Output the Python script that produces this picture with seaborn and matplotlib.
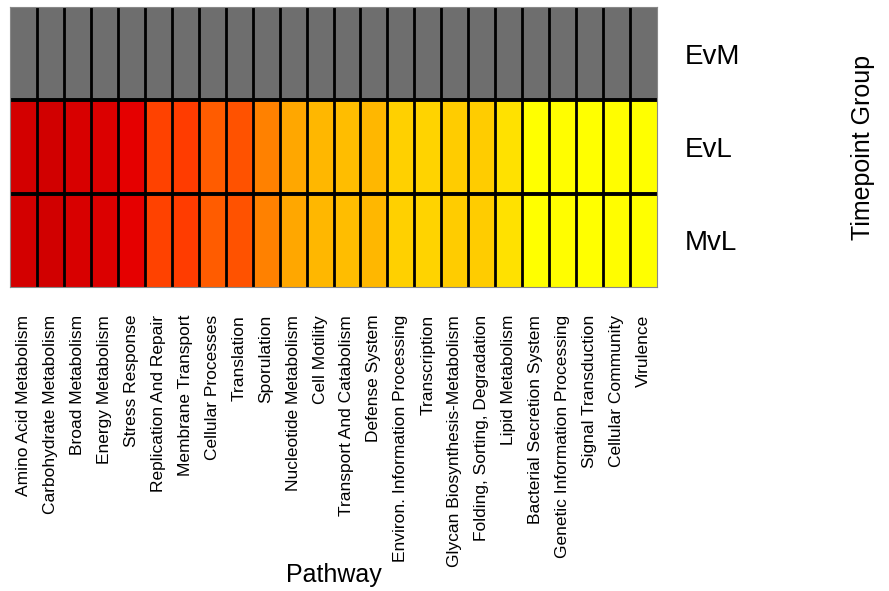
import numpy as np
import pandas as pd
import matplotlib
matplotlib.use("Agg")
import matplotlib.pyplot as plt
import seaborn as sns
from matplotlib.colors import LinearSegmentedColormap

# 경로(Pathway) 목록
pathways = [
    "Amino Acid Metabolism", "Carbohydrate Metabolism", "Broad Metabolism",
    "Energy Metabolism", "Stress Response", "Replication And Repair",
    "Membrane Transport", "Cellular Processes", "Translation", "Sporulation",
    "Nucleotide Metabolism", "Cell Motility", "Transport And Catabolism",
    "Defense System", "Environ. Information Processing", "Transcription",
    "Glycan Biosynthesis-Metabolism", "Folding, Sorting, Degradation",
    "Lipid Metabolism", "Bacterial Secretion System",
    "Genetic Information Processing", "Signal Transduction",
    "Cellular Community", "Virulence",
]
groups = ["EvM", "EvL", "MvL"]

# 값 (EvM 은 값 없음 -> 회색)
evm_values = [np.nan] * 24
evl_values = [0.03, 0.02, 0.05, 0.06, 0.10, 0.33, 0.32, 0.38, 0.36, 0.48,
              0.59, 0.67, 0.70, 0.67, 0.80, 0.81, 0.78, 0.78, 0.87, 1.00,
              0.99, 1.00, 0.99, 1.00]
mvl_values = [0.03, 0.02, 0.05, 0.06, 0.10, 0.33, 0.32, 0.38, 0.36, 0.48,
              0.59, 0.67, 0.70, 0.67, 0.80, 0.81, 0.78, 0.78, 0.87, 1.00,
              0.99, 1.00, 0.99, 1.00]

df = pd.DataFrame([evm_values, evl_values, mvl_values], index=groups, columns=pathways)

cmap = LinearSegmentedColormap.from_list(
    "heat", ["#CC0000", "#FF0000", "#FF6600", "#FFAA00", "#FFD000", "#FFFF00"])
cmap.set_bad("#6E6E6E")

plt.rcParams['font.family'] = ['Liberation Sans', 'DejaVu Sans']

fig = plt.figure(figsize=(8.89, 5.91), dpi=100)
ax = fig.add_axes([10 / 889, 1 - 287 / 591, 647 / 889, 280 / 591])

sns.heatmap(df, cmap=cmap, vmin=0, vmax=1, cbar=False, linewidths=0, ax=ax)
ax.set_facecolor("#6E6E6E")

# 셀 경계선
ax.vlines(np.arange(1, len(pathways)), 0, len(groups), color="black", lw=2)
ax.hlines([1, 2], 0, len(pathways), color="black", lw=2.8)

for s in ax.spines.values():
    s.set_visible(True)
    s.set_color("#888888")
    s.set_linewidth(0.8)

ax.yaxis.tick_right()
ax.yaxis.set_label_position("right")
ax.set_yticklabels(groups, rotation=0, fontsize=20)
ax.set_xticklabels(pathways, rotation=90, fontsize=12.5)
ax.tick_params(length=0)
ax.tick_params(axis="x", pad=20)
ax.tick_params(axis="y", pad=20)

ax.set_xlabel("Pathway", fontsize=18)
ax.xaxis.set_label_coords(0.5, -0.985)
ax.set_ylabel("Timepoint Group", fontsize=18, labelpad=80)

plt.savefig("out.png", dpi=100)
